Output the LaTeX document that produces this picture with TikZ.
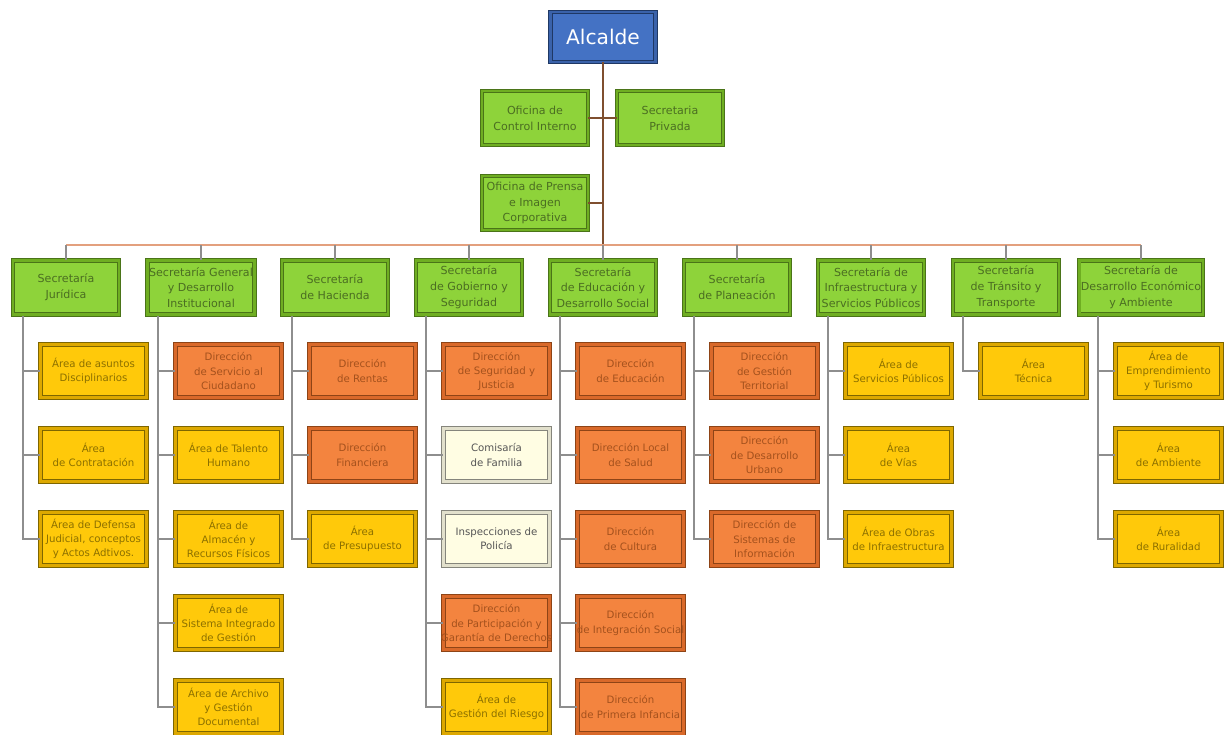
\documentclass[tikz,border=0pt]{standalone}
\usepackage{fontspec}
\setmainfont{DejaVu Sans}
\usepackage{tikz}
\usepackage{color}

\definecolor{azulF}{HTML}{4472C4}
\definecolor{azulB}{HTML}{1F3864}
\definecolor{azulM}{HTML}{3A62AA}
\definecolor{verdeF}{HTML}{8ED33A}
\definecolor{verdeB}{HTML}{4A7418}
\definecolor{verdeM}{HTML}{6FAE22}
\definecolor{verdeT}{HTML}{4B6E22}
\definecolor{naranjaF}{HTML}{F3843F}
\definecolor{naranjaB}{HTML}{8E4416}
\definecolor{naranjaM}{HTML}{D9692A}
\definecolor{naranjaT}{HTML}{A4511D}
\definecolor{amarilloF}{HTML}{FFC90A}
\definecolor{amarilloB}{HTML}{7E6600}
\definecolor{amarilloM}{HTML}{DDA800}
\definecolor{amarilloT}{HTML}{8C7000}
\definecolor{cremaF}{HTML}{FFFDE3}
\definecolor{cremaB}{HTML}{85857C}
\definecolor{cremaM}{HTML}{E2E0CC}
\definecolor{cremaT}{HTML}{555555}
\definecolor{troncoC}{HTML}{7F4F2F}
\definecolor{busC}{HTML}{E3A07E}
\definecolor{ramaC}{HTML}{8E8E8E}

\tikzstyle{caja} = [rectangle, line width=0.55pt, double distance=1.5pt, align=center, inner sep=1pt, minimum width=2.12cm, minimum height=1.06cm]
\tikzstyle{alcalde} = [caja, fill=azulF, draw=azulB, double=azulM, text=white, minimum width=2.1cm, minimum height=1.0cm, font=\fontsize{11.5}{13}\selectfont]
\tikzstyle{verde} = [caja, fill=verdeF, draw=verdeB, double=verdeM, text=verdeT, minimum height=1.08cm, font=\fontsize{6.3}{9}\selectfont]
\tikzstyle{naranja} = [caja, fill=naranjaF, draw=naranjaB, double=naranjaM, text=naranjaT, font=\fontsize{5.8}{8}\selectfont]
\tikzstyle{amarillo} = [caja, fill=amarilloF, draw=amarilloB, double=amarilloM, text=amarilloT, font=\fontsize{5.8}{8}\selectfont]
\tikzstyle{crema} = [caja, fill=cremaF, draw=cremaB, double=cremaM, text=cremaT, font=\fontsize{5.8}{8}\selectfont]
\tikzstyle{tronco} = [draw=troncoC, line width=1.1pt]
\tikzstyle{bus} = [draw=busC, line width=0.9pt]
\tikzstyle{rama} = [draw=ramaC, line width=0.7pt]

\begin{document}
\begin{tikzpicture}[x=0.02cm, y=-0.02cm]
	\useasboundingbox (0,0) rectangle (1227,734);

	% despacho
	\node[alcalde] (alc) at (603, 37) {Alcalde};
	\node[verde] (oci) at (535, 118) {Oficina de\\Control Interno};
	\node[verde] (spr) at (670, 118) {Secretaria\\Privada};
	\node[verde] (opi) at (535, 203) {Oficina de Prensa\\e Imagen\\Corporativa};
	\coordinate (bus) at (603, 245);

	% secretarias
	\node[verde] (sj) at (66, 287.5) {Secretaría\\Jurídica};
	\node[verde] (sg) at (201, 287.5) {Secretaría General\\y Desarrollo\\Institucional};
	\node[verde] (sh) at (335, 287.5) {Secretaría\\de Hacienda};
	\node[verde] (sgs) at (469, 287.5) {Secretaría\\de Gobierno y\\Seguridad};
	\node[verde] (sed) at (603, 287.5) {Secretaría\\de Educación y\\Desarrollo Social};
	\node[verde] (spl) at (737, 287.5) {Secretaría\\de Planeación};
	\node[verde] (sin) at (871, 287.5) {Secretaría de\\Infraestructura y\\Servicios Públicos};
	\node[verde] (stt) at (1006, 287.5) {Secretaría\\de Tránsito y\\Transporte};
	\node[verde] (sde) at (1141, 287.5) {Secretaría de\\Desarrollo Económico\\y Ambiente};

	% juridica
	\node[amarillo] (sj1) at (93.5, 371) {Área de asuntos\\Disciplinarios};
	\node[amarillo] (sj2) at (93.5, 455) {Área\\de Contratación};
	\node[amarillo] (sj3) at (93.5, 539) {Área de Defensa\\Judicial, conceptos\\y Actos Adtivos.};

	% general
	\node[naranja] (sg1) at (228.5, 371) {Dirección\\de Servicio al\\Ciudadano};
	\node[amarillo] (sg2) at (228.5, 455) {Área de Talento\\Humano};
	\node[amarillo] (sg3) at (228.5, 539) {Área de\\Almacén y\\Recursos Físicos};
	\node[amarillo] (sg4) at (228.5, 623) {Área de\\Sistema Integrado\\de Gestión};
	\node[amarillo] (sg5) at (228.5, 707) {Área de Archivo\\y Gestión\\Documental};

	% hacienda
	\node[naranja] (sh1) at (362.5, 371) {Dirección\\de Rentas};
	\node[naranja] (sh2) at (362.5, 455) {Dirección\\Financiera};
	\node[amarillo] (sh3) at (362.5, 539) {Área\\de Presupuesto};

	% gobierno
	\node[naranja] (sgs1) at (496.5, 371) {Dirección\\de Seguridad y\\Justicia};
	\node[crema] (sgs2) at (496.5, 455) {Comisaría\\de Familia};
	\node[crema] (sgs3) at (496.5, 539) {Inspecciones de\\Policía};
	\node[naranja] (sgs4) at (496.5, 623) {Dirección\\de Participación y\\\makebox[0pt]{Garantía de Derechos}};
	\node[amarillo] (sgs5) at (496.5, 707) {Área de\\Gestión del Riesgo};

	% educacion
	\node[naranja] (sed1) at (630.5, 371) {Dirección\\de Educación};
	\node[naranja] (sed2) at (630.5, 455) {Dirección Local\\de Salud};
	\node[naranja] (sed3) at (630.5, 539) {Dirección\\de Cultura};
	\node[naranja] (sed4) at (630.5, 623) {Dirección\\\makebox[0pt]{de Integración Social}};
	\node[naranja] (sed5) at (630.5, 707) {Dirección\\de Primera Infancia};

	% planeacion
	\node[naranja] (spl1) at (764.5, 371) {Dirección\\de Gestión\\Territorial};
	\node[naranja] (spl2) at (764.5, 455) {Dirección\\de Desarrollo\\Urbano};
	\node[naranja] (spl3) at (764.5, 539) {Dirección de\\Sistemas de\\Información};

	% infraestructura
	\node[amarillo] (sin1) at (898.5, 371) {Área de\\Servicios Públicos};
	\node[amarillo] (sin2) at (898.5, 455) {Área\\de Vías};
	\node[amarillo] (sin3) at (898.5, 539) {Área de Obras\\de Infraestructura};

	% transito
	\node[amarillo] (stt1) at (1033.5, 371) {Área\\Técnica};

	% desarrollo economico
	\node[amarillo] (sde1) at (1168.5, 371) {Área de\\Emprendimiento\\y Turismo};
	\node[amarillo] (sde2) at (1168.5, 455) {Área\\de Ambiente};
	\node[amarillo] (sde3) at (1168.5, 539) {Área\\de Ruralidad};

	% lineas
	\coordinate (sjl) at (23, 316);
	\coordinate (sgl) at (158, 316);
	\coordinate (shl) at (292, 316);
	\coordinate (sgsl) at (426, 316);
	\coordinate (sedl) at (560, 316);
	\coordinate (spll) at (694, 316);
	\coordinate (sinl) at (828, 316);
	\coordinate (sttl) at (963, 316);
	\coordinate (sdel) at (1098, 316);

	\draw [tronco] (alc.south) -- (bus);
	\draw [tronco] (oci.east) -- (spr.west);
	\draw [tronco] (opi.east) -- (opi.east -| alc.south);
	\draw [bus] (sj.north |- bus) -- (sde.north |- bus);
	\draw [rama] (sj.north |- bus) -- (sj.north);
	\draw [rama] (sg.north |- bus) -- (sg.north);
	\draw [rama] (sh.north |- bus) -- (sh.north);
	\draw [rama] (sgs.north |- bus) -- (sgs.north);
	\draw [rama] (sed.north |- bus) -- (sed.north);
	\draw [rama] (spl.north |- bus) -- (spl.north);
	\draw [rama] (sin.north |- bus) -- (sin.north);
	\draw [rama] (stt.north |- bus) -- (stt.north);
	\draw [rama] (sde.north |- bus) -- (sde.north);

	\draw [rama] (sjl) |- (sj1.west) (sjl) |- (sj2.west) (sjl) |- (sj3.west);
	\draw [rama] (sgl) |- (sg1.west) (sgl) |- (sg2.west) (sgl) |- (sg3.west) (sgl) |- (sg4.west) (sgl) |- (sg5.west);
	\draw [rama] (shl) |- (sh1.west) (shl) |- (sh2.west) (shl) |- (sh3.west);
	\draw [rama] (sgsl) |- (sgs1.west) (sgsl) |- (sgs2.west) (sgsl) |- (sgs3.west) (sgsl) |- (sgs4.west) (sgsl) |- (sgs5.west);
	\draw [rama] (sedl) |- (sed1.west) (sedl) |- (sed2.west) (sedl) |- (sed3.west) (sedl) |- (sed4.west) (sedl) |- (sed5.west);
	\draw [rama] (spll) |- (spl1.west) (spll) |- (spl2.west) (spll) |- (spl3.west);
	\draw [rama] (sinl) |- (sin1.west) (sinl) |- (sin2.west) (sinl) |- (sin3.west);
	\draw [rama] (sttl) |- (stt1.west);
	\draw [rama] (sdel) |- (sde1.west) (sdel) |- (sde2.west) (sdel) |- (sde3.west);

\end{tikzpicture}
\end{document}
